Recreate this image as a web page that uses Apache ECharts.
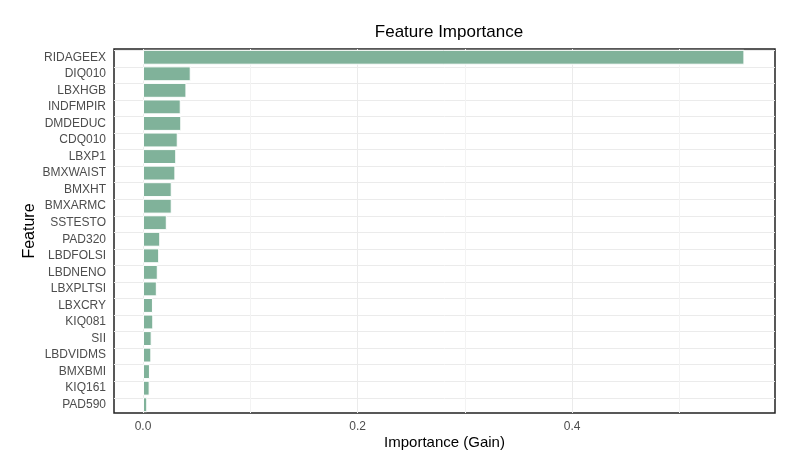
<!DOCTYPE html>
<html>
<head>
<meta charset="utf-8">
<script src="https://cdn.jsdelivr.net/npm/echarts@6/dist/echarts.min.js"></script>
<style>
  html, body { margin: 0; padding: 0; background: #fff; }
  #chart { width: 789px; height: 458px; }
</style>
</head>
<body>
<div id="chart"></div>
<script>
// features, top to bottom
const features = ['RIDAGEEX','DIQ010','LBXHGB','INDFMPIR','DMDEDUC','CDQ010','LBXP1','BMXWAIST',
  'BMXHT','BMXARMC','SSTESTO','PAD320','LBDFOLSI','LBDNENO','LBXPLTSI','LBXCRY','KIQ081','SII',
  'LBDVIDMS','BMXBMI','KIQ161','PAD590'];
const gain = [0.5605,0.0445,0.0405,0.0352,0.0357,0.0324,0.0310,0.0302,
  0.0268,0.0268,0.0222,0.0161,0.0151,0.0138,0.0129,0.0093,0.0096,0.0081,
  0.0078,0.0065,0.0062,0.0040];
const majorTicks = [0, 0.2, 0.4];
const minorTicks = [0.1, 0.3, 0.5];

let myChart = echarts.init(document.getElementById('chart'));

const font = 'Liberation Sans, Arial, sans-serif';

myChart.setOption({
  animation: false,
  backgroundColor: '#fff',
  title: {
    text: 'Feature Importance',
    left: 444,
    top: 19,
    textAlign: 'center',
    textStyle: { fontFamily: font, fontSize: 17, fontWeight: 'normal', color: '#000' }
  },
  grid: {
    left: 114, right: 14, top: 49, bottom: 45,
    outerBoundsMode: 'none',
    show: true, borderColor: '#222', borderWidth: 1.5, backgroundColor: '#fff'
  },
  xAxis: {
    type: 'value',
    min: -0.027,
    max: 0.589,
    name: 'Importance (Gain)',
    nameLocation: 'middle',
    nameGap: 22,
    nameMoveOverlap: false,
    nameTextStyle: { fontFamily: font, fontSize: 15, color: '#000' },
    axisLine: { show: false },
    axisTick: { show: false },
    splitLine: { show: false },
    axisLabel: {
      customValues: majorTicks,
      formatter: v => v.toFixed(1),
      margin: 8,
      fontFamily: font, fontSize: 12, color: '#4d4d4d'
    }
  },
  yAxis: {
    type: 'category',
    inverse: true,
    data: features,
    name: 'Feature',
    nameLocation: 'middle',
    nameGap: 76,
    nameMoveOverlap: false,
    nameRotate: 90,
    nameTextStyle: { fontFamily: font, fontSize: 16, color: '#000' },
    axisLine: { show: false },
    axisTick: { show: false },
    splitLine: { show: false },
    axisLabel: { margin: 8, fontFamily: font, fontSize: 12, color: '#4d4d4d' }
  },
  series: [
    {
      type: 'bar',
      data: [],
      silent: true,
      z: 1,
      markLine: {
        silent: true,
        symbol: 'none',
        label: { show: false },
        data: [].concat(
          features.map(f => ({ yAxis: f, lineStyle: { color: '#ebebeb', width: 1, type: 'solid' } })),
          minorTicks.map(v => ({ xAxis: v, lineStyle: { color: '#f3f3f3', width: 1, type: 'solid' } })),
          majorTicks.map(v => ({ xAxis: v, lineStyle: { color: '#ebebeb', width: 1, type: 'solid' } }))
        )
      }
    },
    {
      type: 'bar',
      data: gain,
      z: 5,
      barWidth: '90%',
      barGap: '-100%',
      itemStyle: { color: '#80b29a', borderColor: '#fff', borderWidth: 1 }
    }
  ]
});
</script>
</body>
</html>
